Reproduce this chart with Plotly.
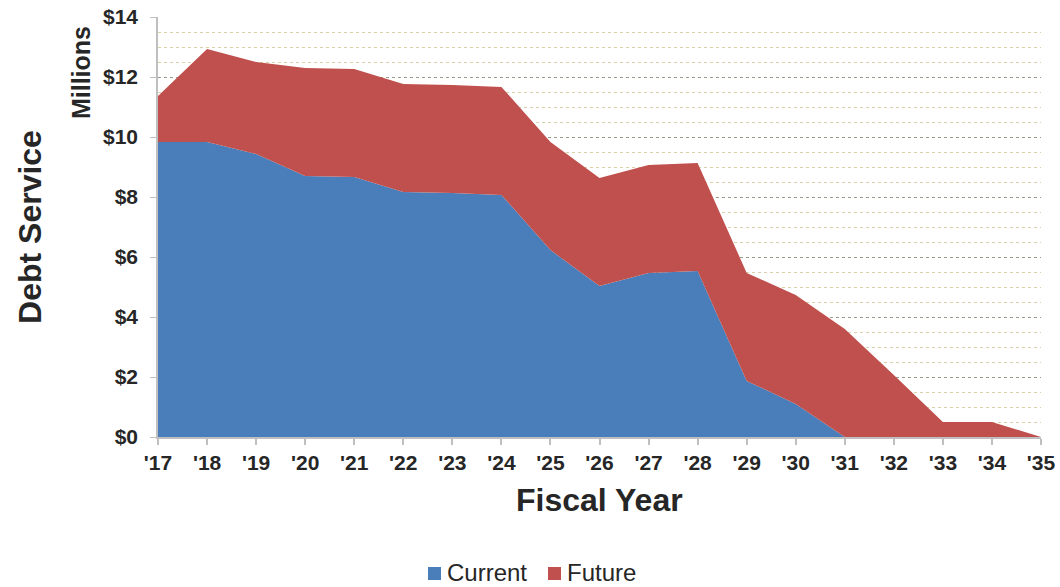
import plotly.graph_objects as go

years = [17, 18, 19, 20, 21, 22, 23, 24, 25, 26, 27, 28, 29, 30, 31, 32, 33, 34, 35]
year_labels = ["'17", "'18", "'19", "'20", "'21", "'22", "'23", "'24", "'25", "'26",
               "'27", "'28", "'29", "'30", "'31", "'32", "'33", "'34", "'35"]
current = [9.83, 9.83, 9.43, 8.70, 8.67, 8.17, 8.13, 8.07, 6.23, 5.03,
           5.47, 5.53, 1.87, 1.10, 0.0, 0.0, 0.0, 0.0, 0.0]
future = [1.54, 3.10, 3.07, 3.60, 3.60, 3.60, 3.60, 3.60, 3.60, 3.60,
          3.60, 3.60, 3.60, 3.63, 3.60, 2.07, 0.50, 0.50, 0.0]
y_ticks = [0, 2, 4, 6, 8, 10, 12, 14]
y_labels = ["$0", "$2", "$4", "$6", "$8", "$10", "$12", "$14"]
series_names = ["Current", "Future"]

blue = "#4A7EBB"
red = "#C0504D"
colors = [blue, red]

fig = go.Figure()
fig.add_trace(go.Scatter(x=years, y=current, name=series_names[0], stackgroup="one",
                         mode="none", fillcolor=blue, line=dict(width=0), showlegend=False))
fig.add_trace(go.Scatter(x=years, y=future, name=series_names[1], stackgroup="one",
                         mode="none", fillcolor=red, line=dict(width=0), showlegend=False))

font_family = "Liberation Sans, Arial, sans-serif"

# custom legend (square swatch close to label, as in the reference)
legend_sq_x = [(0.3058, 0.3205), (0.4417, 0.4564)]
legend_txt_x = [0.3250, 0.4609]
shapes = []
annotations = []
for name, col, (x0, x1), tx in zip(series_names, colors, legend_sq_x, legend_txt_x):
    shapes.append(dict(type="rect", xref="paper", yref="paper", x0=x0, x1=x1,
                       y0=-0.3405, y1=-0.3095, fillcolor=col, line=dict(width=0)))
    annotations.append(dict(text=name, xref="paper", yref="paper", x=tx, y=-0.3238,
                            xanchor="left", yanchor="middle", showarrow=False,
                            font=dict(size=24, family=font_family, color="#262626")))

annotations += [
    dict(text="<b>Fiscal Year</b>", xref="paper", yref="paper", x=0.5, y=-0.15,
         xanchor="center", yanchor="middle", showarrow=False,
         font=dict(size=32, family=font_family, color="#262626")),
    dict(text="<b>Debt Service</b>", xref="paper", yref="paper", x=-0.145, y=0.5,
         xanchor="center", yanchor="middle", showarrow=False, textangle=-90,
         font=dict(size=32, family=font_family, color="#262626")),
    dict(text="<b>Millions</b>", xref="paper", yref="paper", x=-0.087, y=0.867,
         xanchor="center", yanchor="middle", showarrow=False, textangle=-90,
         font=dict(size=25, family=font_family, color="#262626")),
]

fig.update_layout(
    width=1060, height=587,
    margin=dict(l=158, r=19, t=17, b=150, autoexpand=False),
    paper_bgcolor="white", plot_bgcolor="white",
    font=dict(family=font_family, color="#262626"),
    showlegend=False,
    xaxis=dict(range=[17, 35], tickmode="array", tickvals=years, ticktext=year_labels,
               automargin=False,
               showgrid=False, zeroline=False, showline=True, linecolor="#BFBFBF", linewidth=1.5,
               ticks="outside", ticklen=6, tickcolor="#BFBFBF", tickwidth=1.5,
               tickfont=dict(size=21, family=font_family, color="#262626", weight="bold")),
    yaxis=dict(range=[0, 14], tickmode="array", tickvals=y_ticks, ticktext=y_labels,
               automargin=False,
               showgrid=True, gridcolor="#9A9A8A", griddash="dot", gridwidth=1,
               minor=dict(dtick=0.5, showgrid=True, gridcolor="#D9CFA8", griddash="dot", gridwidth=1),
               zeroline=False, showline=True, linecolor="#BFBFBF", linewidth=1.5,
               ticks="outside", ticklen=6, tickcolor="#BFBFBF", ticklabelstandoff=8,
               tickfont=dict(size=21, family=font_family, color="#262626", weight="bold")),
    shapes=shapes,
    annotations=annotations,
)

fig.write_html("out.html", config={"displayModeBar": False},
               post_script="document.body.style.margin='0';")
